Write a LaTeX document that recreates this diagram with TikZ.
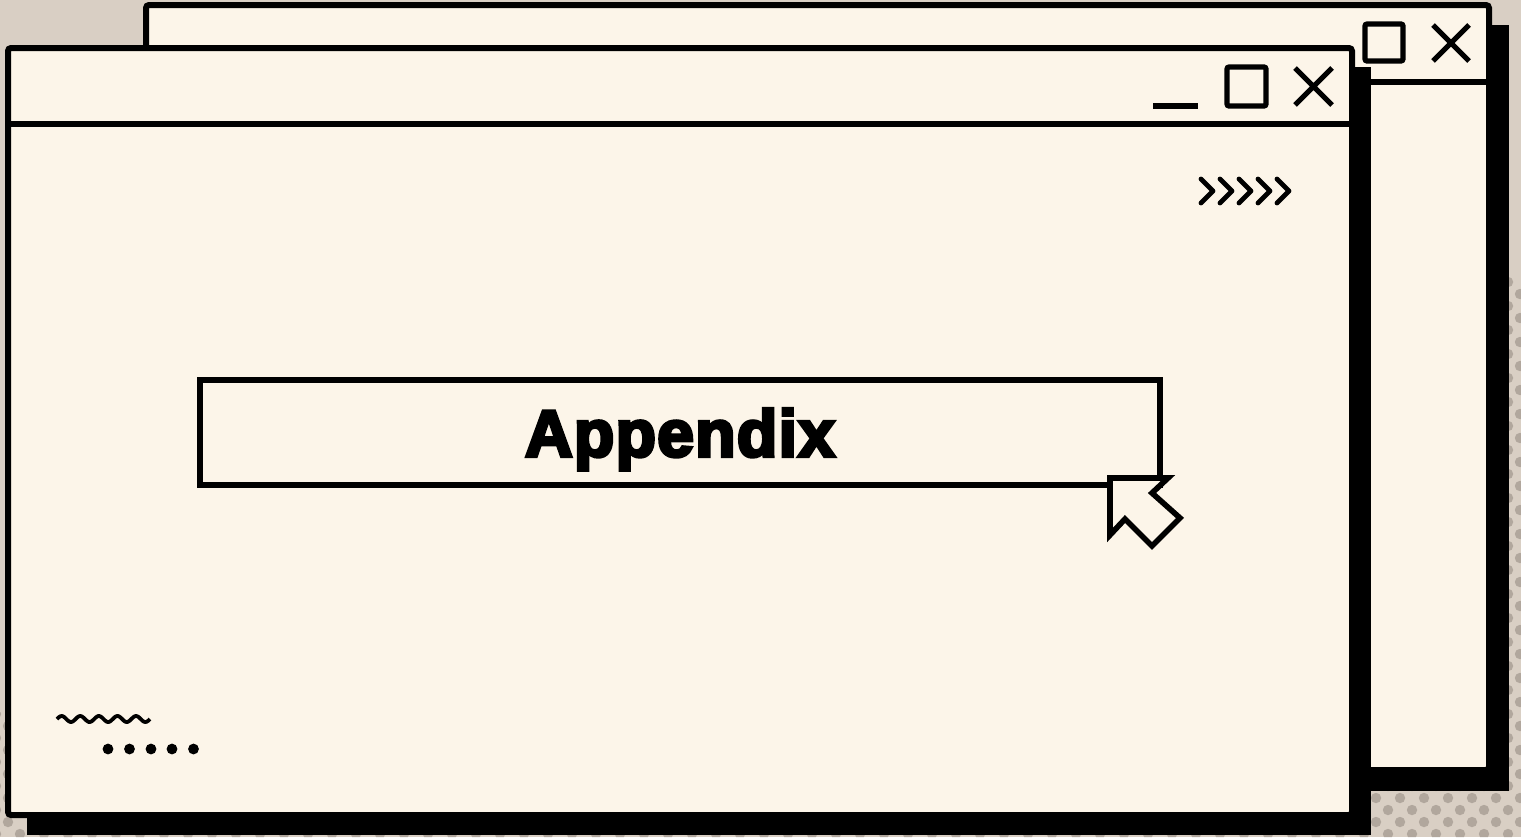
\documentclass[tikz,border=0pt]{standalone}
\usepackage{fontspec}
\newfontfamily\titlefont{Liberation Sans}[BoldFeatures={FakeBold=5,LetterSpace=2}]
\usetikzlibrary{positioning}
\definecolor{paper}{HTML}{FCF5E9}
\definecolor{desk}{HTML}{D9CFC4}
\definecolor{speck}{HTML}{B1A79D}
\tikzset{
    %Define style for windows
    window/.style={
           draw=black, fill=paper,
           line width=3pt,
           rounded corners=1.5pt},
    shadow/.style={
           fill=black},
    bar/.style={
           draw=black,
           line width=3pt},
    %Define style for title bar buttons
    button/.style={
           draw=black,
           line width=2.6pt,
           rounded corners=1pt},
    %Define style for the search box
    searchbox/.style={
           rectangle,
           draw=black, fill=paper,
           line width=2.8pt,
           minimum width=480pt,
           minimum height=52.5pt,
           text depth=0pt,
           font=\titlefont\bfseries\fontsize{33}{33}\selectfont,
           text centered},
    cursor/.style={
           draw=black, fill=paper,
           line width=2.8pt,
           line join=miter},
    % Define arrow style
    chevron/.style={
           draw=black,
           line width=2.4pt,
           line cap=round, line join=round}
}

\begin{document}
\begin{tikzpicture}[x=0.5pt,y=-0.5pt]
 %background
\fill[desk] (0,0) rectangle (1521,837);
\useasboundingbox (0,0) rectangle (1521,837);
 %dots
\begin{scope}
\clip (1372,272) rectangle (1521,837) (0,712) rectangle (1521,837);
\foreach \m in {23,...,69}{
  \pgfmathsetmacro\off{8+12*mod(\m,2)}
  \foreach \k in {-1,...,63}
     \fill[speck] ({\off+24*\k},{6+12*\m}) circle (2.6pt);
}
\end{scope}
 %back window
\fill[shadow] (166,25) rectangle (1509,791);
\draw[window] (146,5) rectangle (1489,770);
\draw[bar] (146,82) -- (1489,82);
\draw[button] (1365,24) rectangle (1403,61);
\draw[button] (1433,25) -- (1469,61) (1433,61) -- (1469,25);
 %front window
\fill[shadow] (27,67) rectangle (1371,835);
\draw[window] (8,48) rectangle (1352,815);
\draw[bar] (8,124) -- (1352,124);
\draw[button] (1153,106) -- (1198,106);
\draw[button] (1227,67) rectangle (1266,106);
\draw[button] (1295,68) -- (1332,105) (1295,105) -- (1332,68);
\foreach \i in {0,...,4}
  \draw[chevron] ({1201+19*\i},179) -- ++(12,12) -- ++(-12,12);
 %search box and cursor
\node[searchbox] (search) at (680,432.5) {Appendix};
\draw[cursor] (1110,478) -- (1168,478) -- (1152,493) -- (1180,518)
   -- (1152,546) -- (1125,519) -- (1110,535) -- cycle;
 %corner marks
\draw[line width=1.9pt] plot[domain=0:93,samples=80] ({57+\x},{719-3*sin(19.355*\x)});
\foreach \x in {108,129.5,151,172,193.5}
  \fill (\x,749) circle (2.7pt);
\end{tikzpicture}
\end{document}
